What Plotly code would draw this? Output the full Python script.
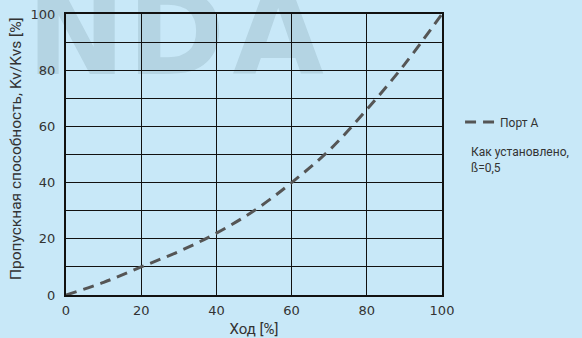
import plotly.graph_objects as go

stroke = [0, 10, 20, 30, 40, 50, 60, 70, 80, 90, 100]
flow = [0, 4.5, 10, 15.5, 22, 30, 40, 51.5, 66, 82, 100]
x_ticks = [0, 20, 40, 60, 80, 100]
y_grid = [0, 10, 20, 30, 40, 50, 60, 70, 80, 90, 100]
y_labels = ["0", "", "20", "", "40", "", "60", "", "80", "", "100"]
watermark = ["N", "D", "A"]
watermark_x = [0.027, 0.293, 0.564]

bg = "#c8e8f8"
txt = "#333333"
font = "Roboto"
tick_font = dict(family="DejaVu Sans", size=13, color=txt)

fig = go.Figure()
fig.add_trace(go.Scatter(x=stroke, y=flow, mode="lines", name="Порт А",
                         line=dict(color="#555555", width=3, dash="11px,7px", shape="spline")))

# faint watermark behind the grid
for ch, cx in zip(watermark, watermark_x):
    fig.add_shape(type="rect", xref="paper", yref="paper", x0=cx - 0.05, x1=cx + 0.05, y0=0.911, y1=1.011,
                  line=dict(width=0), fillcolor="rgba(0,0,0,0)", layer="below",
                  label=dict(text="<b>" + ch + "</b>",
                             font=dict(size=118, color="rgba(120,150,165,0.25)", family="DejaVu Sans"),
                             textposition="middle center"))

fig.add_annotation(xref="paper", yref="paper", x=-0.133, y=0.523, xanchor="center", yanchor="middle",
                   text="Пропускная способность, Kv/Kvs [%]", textangle=-90, showarrow=False,
                   font=dict(size=15.5, color=txt, family=font))

fig.add_annotation(xref="paper", yref="paper", x=1.072, y=0.54, xanchor="left", yanchor="top",
                   text="Как установлено,<br>ß=0,5", showarrow=False, align="left",
                   font=dict(size=12, color=txt, family=font))

fig.update_layout(
    width=582, height=338,
    margin=dict(l=66, r=140, t=14, b=43),
    paper_bgcolor=bg, plot_bgcolor=bg,
    font=dict(family=font, color=txt, size=13),
    showlegend=True,
    legend=dict(x=1.048, y=0.616, xanchor="left", yanchor="middle", bgcolor="rgba(0,0,0,0)",
                font=dict(size=12, color=txt, family=font), itemwidth=30),
    xaxis=dict(range=[0, 100], tickvals=x_ticks, ticktext=[str(v) for v in x_ticks],
               showgrid=True, gridcolor="#111111", gridwidth=1.3, zeroline=False,
               showline=True, linecolor="#111111", linewidth=2, mirror=True,
               ticks="", tickfont=tick_font, ticklabelstandoff=2, automargin=False,
               title=dict(text="Ход [%]", font=dict(size=15, color=txt))),
    yaxis=dict(range=[0, 100], tickvals=y_grid, ticktext=y_labels,
               showgrid=True, gridcolor="#111111", gridwidth=1.3, zeroline=False,
               showline=True, linecolor="#111111", linewidth=2, mirror=True,
               ticks="", tickfont=tick_font, ticklabelstandoff=6, automargin=False),
)

fig.write_html("out.html", config={"displayModeBar": False},
               post_script="document.body.style.margin='0';")
